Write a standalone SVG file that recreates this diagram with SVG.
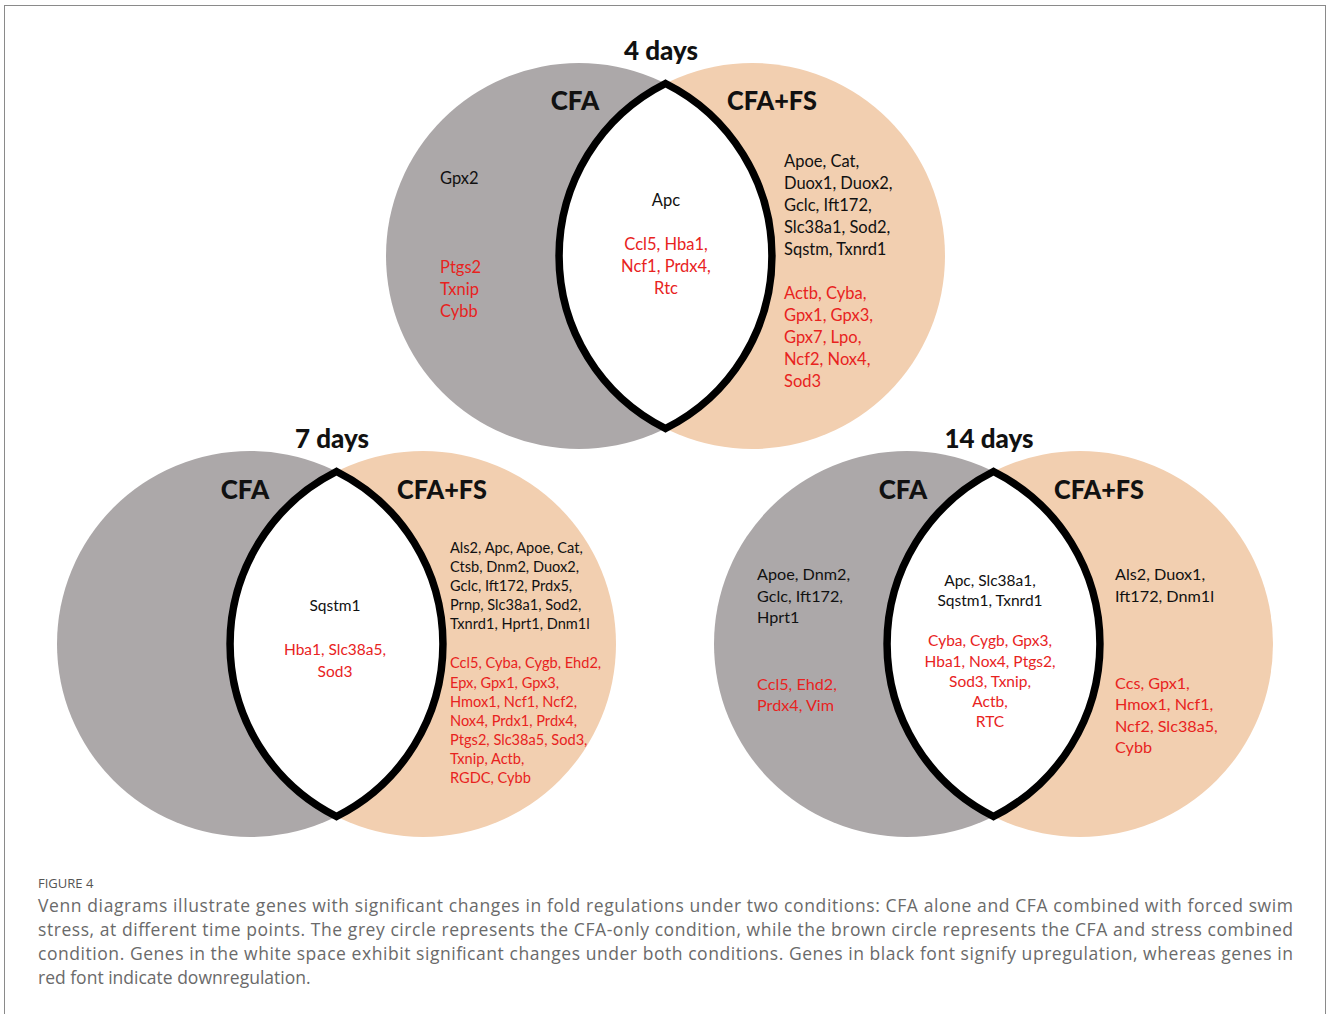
<svg xmlns="http://www.w3.org/2000/svg" width="1328" height="1014" viewBox="0 0 1328 1014">
<style>
.grey{fill:#aca8a9}
.peach{fill:#f2cfb0}
.lens{fill:#fff;stroke:#000;stroke-width:7.5;stroke-linejoin:miter}
.hd{font-family:Lato,"Liberation Sans",sans-serif;font-weight:900;font-size:26px;fill:#111;text-anchor:middle}
.g{font-family:Lato,"Liberation Sans",sans-serif;fill:#111}
.r{fill:#e8231e}
.m{text-anchor:middle}
.s16{font-size:16.5px}
.s14{font-size:14.6px}
.s15{font-size:15.5px}
.s16b{font-size:16.2px}
.cap{font-family:"Open Sans","Liberation Sans",sans-serif;font-size:17.5px;fill:#6a6a6a}
</style>
<rect x="4.5" y="5.5" width="1321" height="1020" fill="none" stroke="#8a8a8a" stroke-width="1"/>

<g id="venn-4days">
  <circle class="grey" cx="579" cy="256" r="193"/>
  <circle class="peach" cx="752" cy="256" r="193"/>
  <path class="lens" d="M665.5 83.5 A193 193 0 0 1 665.5 428.5 A193 193 0 0 1 665.5 83.5 Z"/>
  <text class="hd" x="661" y="60">4 days</text>
  <text class="hd" x="575" y="110">CFA</text>
  <text class="hd" x="772" y="110" textLength="90" lengthAdjust="spacingAndGlyphs">CFA+FS</text>
  <g class="g s16">
    <text x="440" y="184">Gpx2</text>
    <text x="440" y="273" class="r">Ptgs2</text>
    <text x="440" y="295" class="r">Txnip</text>
    <text x="440" y="317" class="r">Cybb</text>
    <text x="666" y="206" class="m">Apc</text>
    <text x="666" y="250" class="m r">Ccl5, Hba1,</text>
    <text x="666" y="272" class="m r">Ncf1, Prdx4,</text>
    <text x="666" y="294" class="m r">Rtc</text>
    <text x="784" y="167">Apoe, Cat,</text>
    <text x="784" y="189">Duox1, Duox2,</text>
    <text x="784" y="211">Gclc, Ift172,</text>
    <text x="784" y="233">Slc38a1, Sod2,</text>
    <text x="784" y="255">Sqstm, Txnrd1</text>
    <text x="784" y="299" class="r">Actb, Cyba,</text>
    <text x="784" y="321" class="r">Gpx1, Gpx3,</text>
    <text x="784" y="343" class="r">Gpx7, Lpo,</text>
    <text x="784" y="365" class="r">Ncf2, Nox4,</text>
    <text x="784" y="387" class="r">Sod3</text>
  </g>
</g>

<g id="venn-7days">
  <circle class="grey" cx="250" cy="644" r="193"/>
  <circle class="peach" cx="423" cy="644" r="193"/>
  <path class="lens" d="M336.5 471.5 A193 193 0 0 1 336.5 816.5 A193 193 0 0 1 336.5 471.5 Z"/>
  <text class="hd" x="332" y="448">7 days</text>
  <text class="hd" x="245" y="499">CFA</text>
  <text class="hd" x="442" y="499" textLength="90" lengthAdjust="spacingAndGlyphs">CFA+FS</text>
  <g class="g">
    <text x="335" y="611" class="m s15">Sqstm1</text>
    <text x="335" y="655" class="m r s15">Hba1, Slc38a5,</text>
    <text x="335" y="677" class="m r s15">Sod3</text>
    <g class="s14">
      <text x="450" y="553">Als2, Apc, Apoe, Cat,</text>
      <text x="450" y="572">Ctsb, Dnm2, Duox2,</text>
      <text x="450" y="591">Gclc, Ift172, Prdx5,</text>
      <text x="450" y="610">Prnp, Slc38a1, Sod2,</text>
      <text x="450" y="629">Txnrd1, Hprt1, Dnm1l</text>
      <text x="450" y="668" class="r">Ccl5, Cyba, Cygb, Ehd2,</text>
      <text x="450" y="688" class="r">Epx, Gpx1, Gpx3,</text>
      <text x="450" y="707" class="r">Hmox1, Ncf1, Ncf2,</text>
      <text x="450" y="726" class="r">Nox4, Prdx1, Prdx4,</text>
      <text x="450" y="745" class="r">Ptgs2, Slc38a5, Sod3,</text>
      <text x="450" y="764" class="r">Txnip, Actb,</text>
      <text x="450" y="783" class="r">RGDC, Cybb</text>
    </g>
  </g>
</g>

<g id="venn-14days">
  <circle class="grey" cx="907" cy="644" r="193"/>
  <circle class="peach" cx="1080" cy="644" r="193"/>
  <path class="lens" d="M993.5 471.5 A193 193 0 0 1 993.5 816.5 A193 193 0 0 1 993.5 471.5 Z"/>
  <text class="hd" x="989" y="448">14 days</text>
  <text class="hd" x="903" y="499">CFA</text>
  <text class="hd" x="1099" y="499" textLength="90" lengthAdjust="spacingAndGlyphs">CFA+FS</text>
  <g class="g">
    <g class="s16b">
      <text x="757" y="580">Apoe, Dnm2,</text>
      <text x="757" y="602">Gclc, Ift172,</text>
      <text x="757" y="623">Hprt1</text>
      <text x="757" y="690" class="r">Ccl5, Ehd2,</text>
      <text x="757" y="711" class="r">Prdx4, Vim</text>
      <text x="1115" y="580">Als2, Duox1,</text>
      <text x="1115" y="602">Ift172, Dnm1l</text>
      <text x="1115" y="689" class="r">Ccs, Gpx1,</text>
      <text x="1115" y="710" class="r">Hmox1, Ncf1,</text>
      <text x="1115" y="732" class="r">Ncf2, Slc38a5,</text>
      <text x="1115" y="753" class="r">Cybb</text>
    </g>
    <g class="s15">
      <text x="990" y="586" class="m">Apc, Slc38a1,</text>
      <text x="990" y="606" class="m">Sqstm1, Txnrd1</text>
      <text x="990" y="646" class="m r">Cyba, Cygb, Gpx3,</text>
      <text x="990" y="667" class="m r">Hba1, Nox4, Ptgs2,</text>
      <text x="990" y="687" class="m r">Sod3, Txnip,</text>
      <text x="990" y="707" class="m r">Actb,</text>
      <text x="990" y="727" class="m r">RTC</text>
    </g>
  </g>
</g>

<g id="caption">
  <text x="38" y="888" style="font-family:'Open Sans','Liberation Sans',sans-serif;font-size:13px;fill:#555">FIGURE 4</text>
  <text class="cap" x="38" y="912" textLength="1255" lengthAdjust="spacing">Venn diagrams illustrate genes with significant changes in fold regulations under two conditions: CFA alone and CFA combined with forced swim</text>
  <text class="cap" x="38" y="936" textLength="1255" lengthAdjust="spacing">stress, at different time points. The grey circle represents the CFA-only condition, while the brown circle represents the CFA and stress combined</text>
  <text class="cap" x="38" y="960" textLength="1255" lengthAdjust="spacing">condition. Genes in the white space exhibit significant changes under both conditions. Genes in black font signify upregulation, whereas genes in</text>
  <text class="cap" x="38" y="984">red font indicate downregulation.</text>
</g>
</svg>
